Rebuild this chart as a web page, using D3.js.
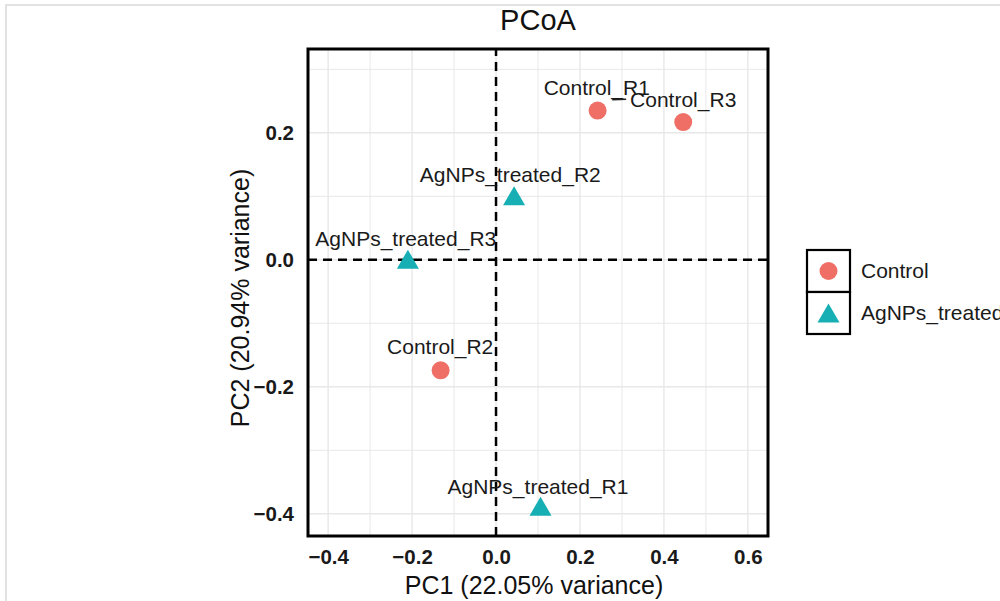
<!DOCTYPE html>
<html>
<head>
<meta charset="utf-8">
<script src="https://cdn.jsdelivr.net/npm/d3@7"></script>
<style>
  html, body { margin: 0; padding: 0; background: #fff; }
  svg { display: block; font-family: "Liberation Sans", Arial, sans-serif; }
</style>
</head>
<body>
<svg id="chart" width="1000" height="601"></svg>
<script>
// ---- data ----
const samples = ["Control_R1", "Control_R2", "Control_R3", "AgNPs_treated_R1", "AgNPs_treated_R2", "AgNPs_treated_R3"];
const groups  = ["Control", "Control", "Control", "AgNPs_treated", "AgNPs_treated", "AgNPs_treated"];
const pc1     = [0.242, -0.132, 0.446, 0.106, 0.043, -0.210];
const pc2     = [0.235, -0.174, 0.217, -0.388, 0.101, 0.001];
// repelled label centres (data units)
const labelX  = [0.240, -0.133, 0.446, 0.100, 0.034, -0.215];
const labelY  = [0.271, -0.137, 0.252, -0.357, 0.134, 0.034];
const legendGroups = ["Control", "AgNPs_treated"];
const groupColors  = ["#EF6F67", "#17AFB4"];
const xTicks = [-0.4, -0.2, 0.0, 0.2, 0.4, 0.6];
const yTicks = [-0.4, -0.2, 0.0, 0.2];
const gridX = [-0.4, -0.3, -0.2, -0.1, 0.0, 0.1, 0.2, 0.3, 0.4, 0.5, 0.6];
const gridY = [-0.4, -0.3, -0.2, -0.1, 0.0, 0.1, 0.2, 0.3];
// small repel segment (data units)
const segX = [0.277, 0.310];
const segY = [0.252, 0.253];
const titleText = "PCoA";
const xTitle = "PC1 (22.05% variance)";
const yTitle = "PC2 (20.94% variance)";

// ---- layout ----
const svg = d3.select("#chart");
const x = d3.scaleLinear().domain([-0.448, 0.648]).range([308, 768]);
const y = d3.scaleLinear().domain([-0.435, 0.332]).range([536, 49]);
const color = d3.scaleOrdinal().domain(legendGroups).range(groupColors);

// outer frame (screenshot border)
svg.append("rect").attr("x", 6).attr("y", 5).attr("width", 1000).attr("height", 700)
  .attr("fill", "none").attr("stroke", "#d9d9d9").attr("stroke-width", 1.5);

// grid
const grid = svg.append("g");
grid.selectAll(".gx").data(gridX).join("line")
  .attr("x1", d => x(d)).attr("x2", d => x(d)).attr("y1", y.range()[0]).attr("y2", y.range()[1])
  .attr("stroke", "#e8e8e8").attr("stroke-width", (d, i) => i % 2 === 0 ? 1.4 : 1);
grid.selectAll(".gy").data(gridY).join("line")
  .attr("y1", d => y(d)).attr("y2", d => y(d)).attr("x1", x.range()[0]).attr("x2", x.range()[1])
  .attr("stroke", "#e8e8e8").attr("stroke-width", (d, i) => i % 2 === 0 ? 1.4 : 1);

// reference dashed lines
svg.append("line").attr("x1", x(0)).attr("x2", x(0)).attr("y1", y.range()[0]).attr("y2", y.range()[1])
  .attr("stroke", "#000").attr("stroke-width", 2.5).attr("stroke-dasharray", "9,6");
svg.append("line").attr("y1", y(0)).attr("y2", y(0)).attr("x1", x.range()[0]).attr("x2", x.range()[1])
  .attr("stroke", "#000").attr("stroke-width", 2.5).attr("stroke-dasharray", "9,6");

// panel border
svg.append("rect").attr("x", x.range()[0]).attr("y", y.range()[1])
  .attr("width", x.range()[1] - x.range()[0]).attr("height", y.range()[0] - y.range()[1])
  .attr("fill", "none").attr("stroke", "#000").attr("stroke-width", 3);

// axes (labels only, no ticks)
const fmt = d => d3.format(".1f")(d).replace("-", "\u2212");
const xAxis = d3.axisBottom(x).tickValues(xTicks).tickSize(0).tickPadding(13).tickFormat(fmt);
const gx = svg.append("g").attr("transform", `translate(0,${y.range()[0]})`).call(xAxis);
gx.select(".domain").remove();
gx.selectAll("text").attr("font-size", 20.5).attr("font-weight", "bold").attr("fill", "#1a1a1a")
  .attr("font-family", "Liberation Sans, Arial, sans-serif");

const yAxis = d3.axisLeft(y).tickValues(yTicks).tickSize(0).tickPadding(14).tickFormat(fmt);
const gy = svg.append("g").attr("transform", `translate(${x.range()[0]},0)`).call(yAxis);
gy.select(".domain").remove();
gy.selectAll("text").attr("font-size", 20.5).attr("font-weight", "bold").attr("fill", "#1a1a1a")
  .attr("font-family", "Liberation Sans, Arial, sans-serif");

// titles
svg.append("text").attr("x", 538).attr("y", 30).attr("text-anchor", "middle")
  .attr("font-size", 29).attr("fill", "#111").text(titleText);
svg.append("text").attr("x", 534).attr("y", 594).attr("text-anchor", "middle")
  .attr("font-size", 25).attr("fill", "#111").text(xTitle);
svg.append("text").attr("transform", "translate(249,298) rotate(-90)").attr("text-anchor", "middle")
  .attr("font-size", 25).attr("fill", "#111").text(yTitle);

// shapes
function triPath(cx, cy, w, h) {
  return `M${cx},${cy - h / 2}L${cx + w / 2},${cy + h / 2}L${cx - w / 2},${cy + h / 2}Z`;
}
function drawShape(g, grp, cx, cy) {
  if (grp === "Control") {
    g.append("circle").attr("cx", cx).attr("cy", cy).attr("r", 9).attr("fill", color(grp));
  } else {
    g.append("path").attr("d", triPath(cx, cy, 22, 19)).attr("fill", color(grp));
  }
}

// segment
svg.append("line").attr("x1", x(segX[0])).attr("x2", x(segX[1])).attr("y1", y(segY[0])).attr("y2", y(segY[1]))
  .attr("stroke", "#222").attr("stroke-width", 1.5);

// points
const pts = svg.append("g");
samples.forEach((s, i) => drawShape(pts, groups[i], x(pc1[i]), y(pc2[i])));

// labels
svg.append("g").selectAll("text").data(samples).join("text")
  .attr("x", (d, i) => x(labelX[i])).attr("y", (d, i) => y(labelY[i]))
  .attr("dy", "0.35em").attr("text-anchor", "middle")
  .attr("font-size", 21).attr("fill", "#1a1a1a").text(d => d);

// legend
const lg = svg.append("g");
const lx = 807, ly = 250, cell = 42;
legendGroups.forEach((grp, i) => {
  lg.append("rect").attr("x", lx).attr("y", ly + i * cell).attr("width", 43).attr("height", cell)
    .attr("fill", "#fff").attr("stroke", "#000").attr("stroke-width", 2.2);
});
legendGroups.forEach((grp, i) => {
  drawShape(lg, grp, lx + 21.5, ly + cell / 2 + i * cell);
  lg.append("text").attr("x", lx + 54).attr("y", ly + cell / 2 + i * cell).attr("dy", "0.35em")
    .attr("font-size", 21).attr("fill", "#1a1a1a").text(grp);
});
</script>
</body>
</html>
